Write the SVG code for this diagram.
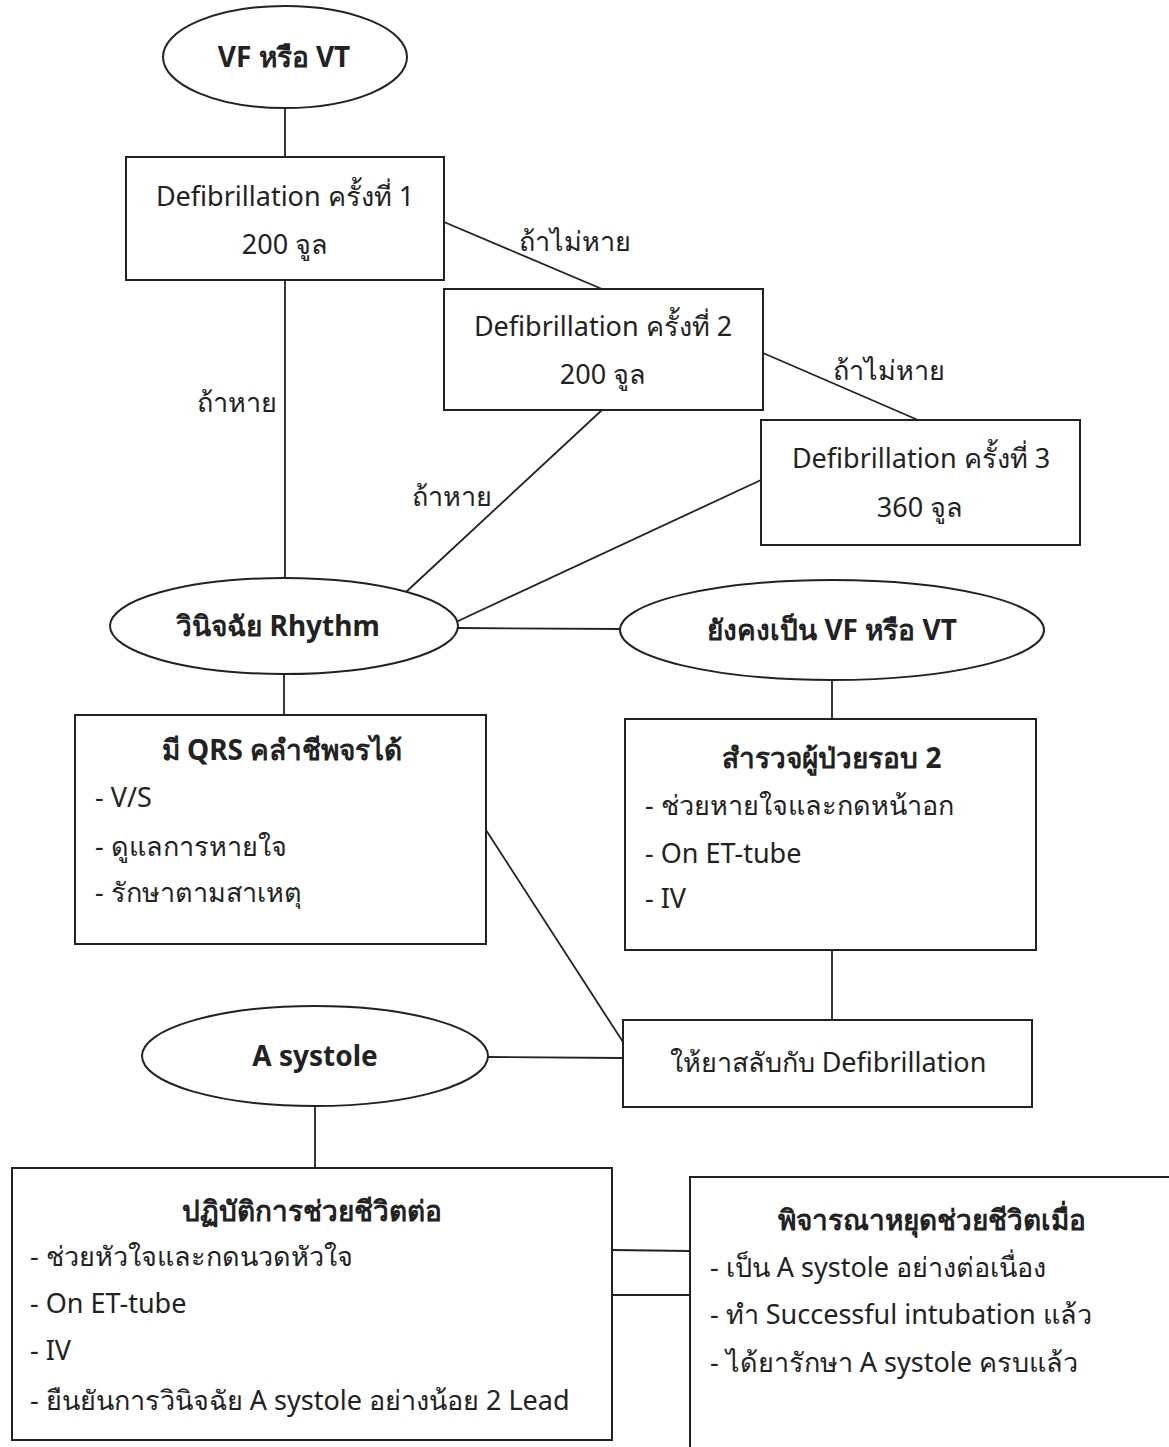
<svg xmlns="http://www.w3.org/2000/svg" width="1169" height="1447" viewBox="0 0 1169 1447">
<style>
  .shape { fill: #ffffff; stroke: #222; stroke-width: 2; }
  .conn line { stroke: #222; stroke-width: 1.8; }
  text { font-family: "Noto Sans", "Liberation Sans", "DejaVu Sans", sans-serif; font-size: 27px; fill: #222; }
  .c { text-anchor: middle; }
  .b { font-weight: bold; font-size: 28px; }
</style>
<rect width="1169" height="1447" fill="#ffffff"/>
<g id="connectors" class="conn">
  <line x1="285" y1="108" x2="285" y2="157"/>
  <line x1="444" y1="222" x2="602" y2="289"/>
  <line x1="763" y1="353" x2="918" y2="420"/>
  <line x1="285" y1="280" x2="285" y2="579"/>
  <line x1="602" y1="410" x2="406" y2="592"/>
  <line x1="761" y1="480" x2="456" y2="622"/>
  <line x1="458" y1="628" x2="620" y2="629"/>
  <line x1="284" y1="675" x2="284" y2="715"/>
  <line x1="832" y1="680" x2="832" y2="719"/>
  <line x1="832" y1="950" x2="832" y2="1020"/>
  <line x1="486" y1="830" x2="623" y2="1042"/>
  <line x1="487" y1="1057" x2="623" y2="1058"/>
  <line x1="315" y1="1106" x2="315" y2="1168"/>
  <line x1="612" y1="1250" x2="690" y2="1251"/>
  <line x1="612" y1="1295" x2="690" y2="1295"/>
</g>
<g id="labels">
  <text x="575" y="251" class="c">ถ้าไม่หาย</text>
  <text x="889" y="380" class="c">ถ้าไม่หาย</text>
  <text x="237" y="412" class="c">ถ้าหาย</text>
  <text x="452" y="506" class="c">ถ้าหาย</text>
</g>
<g id="n-vfvt">
  <ellipse class="shape" cx="285" cy="57" rx="122" ry="51"/>
  <text x="284" y="67" class="c b">VF หรือ VT</text>
</g>
<g id="n-defib1">
  <rect class="shape" x="126" y="157" width="318" height="123"/>
  <text x="285" y="206" class="c">Defibrillation ครั้งที่ 1</text>
  <text x="285" y="254" class="c">200 จูล</text>
</g>
<g id="n-defib2">
  <rect class="shape" x="444" y="289" width="319" height="121"/>
  <text x="603" y="336" class="c">Defibrillation ครั้งที่ 2</text>
  <text x="603" y="384" class="c">200 จูล</text>
</g>
<g id="n-defib3">
  <rect class="shape" x="761" y="420" width="319" height="125"/>
  <text x="921" y="468" class="c">Defibrillation ครั้งที่ 3</text>
  <text x="920" y="517" class="c">360 จูล</text>
</g>
<g id="n-rhythm">
  <ellipse class="shape" cx="284" cy="626" rx="174" ry="48"/>
  <text x="278" y="636" class="c b">วินิจฉัย Rhythm</text>
</g>
<g id="n-still">
  <ellipse class="shape" cx="832" cy="630" rx="212" ry="50"/>
  <text x="832" y="640" class="c b">ยังคงเป็น VF หรือ VT</text>
</g>
<g id="n-qrs">
  <rect class="shape" x="75" y="715" width="411" height="229"/>
  <text x="282" y="760" class="c b">มี QRS คลำชีพจรได้</text>
  <text x="95" y="807">- V/S</text>
  <text x="95" y="856">- ดูแลการหายใจ</text>
  <text x="95" y="902">- รักษาตามสาเหตุ</text>
</g>
<g id="n-survey">
  <rect class="shape" x="625" y="719" width="411" height="231"/>
  <text x="832" y="768" class="c b">สำรวจผู้ป่วยรอบ 2</text>
  <text x="645" y="815">- ช่วยหายใจและกดหน้าอก</text>
  <text x="645" y="863">- On ET-tube</text>
  <text x="645" y="908">- IV</text>
</g>
<g id="n-drug">
  <rect class="shape" x="623" y="1020" width="409" height="87"/>
  <text x="828" y="1072" class="c">ให้ยาสลับกับ Defibrillation</text>
</g>
<g id="n-asystole">
  <ellipse class="shape" cx="315" cy="1056" rx="173" ry="50"/>
  <text x="315" y="1066" class="c b">A systole</text>
</g>
<g id="n-cpr">
  <rect class="shape" x="12" y="1168" width="600" height="272"/>
  <text x="312" y="1221" class="c b">ปฏิบัติการช่วยชีวิตต่อ</text>
  <text x="30" y="1266">- ช่วยหัวใจและกดนวดหัวใจ</text>
  <text x="30" y="1313">- On ET-tube</text>
  <text x="30" y="1360">- IV</text>
  <text x="30" y="1410">- ยืนยันการวินิจฉัย A systole อย่างน้อย 2 Lead</text>
</g>
<g id="n-stop">
  <rect class="shape" x="690" y="1177" width="490" height="280"/>
  <text x="932" y="1230" class="c b">พิจารณาหยุดช่วยชีวิตเมื่อ</text>
  <text x="710" y="1277">- เป็น A systole อย่างต่อเนื่อง</text>
  <text x="710" y="1324">- ทำ Successful intubation แล้ว</text>
  <text x="710" y="1372">- ได้ยารักษา A systole ครบแล้ว</text>
</g>
</svg>
